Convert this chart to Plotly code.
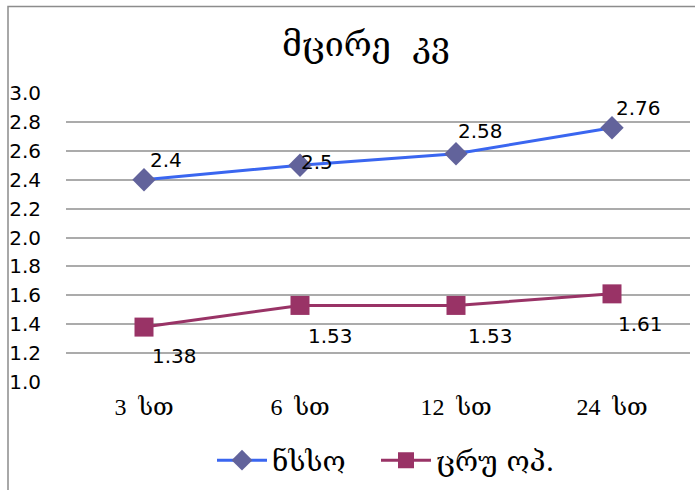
import plotly.graph_objects as go

categories = ["3  სთ", "6  სთ", "12  სთ", "24  სთ"]
series1_name = "ნსსო"
series1 = [2.4, 2.5, 2.58, 2.76]
series2_name = "ცრუ ოპ."
series2 = [1.38, 1.53, 1.53, 1.61]
title_text = "მცირე  კვ"
y_ticks = [1.0, 1.2, 1.4, 1.6, 1.8, 2.0, 2.2, 2.4, 2.6, 2.8, 3.0]

# label offsets in pixels (style only)
s1_off = [(22, 20), (17, 3), (24, 23), (26, 20)]
s2_off = [(30, -29), (30, -31), (34, -31), (28, -30)]

W, H = 695, 490
ML, MR, MT, MB = 66, 5, 93, 106
PW, PH = W - ML - MR, H - MT - MB

fig = go.Figure()
fig.add_trace(go.Scatter(
    x=categories, y=series1, name=series1_name, mode="lines+markers",
    line=dict(color="#3A66F0", width=3),
    marker=dict(symbol="diamond", size=18, color="#62639B"),
    legend="legend",
))
fig.add_trace(go.Scatter(
    x=categories, y=series2, name=series2_name, mode="lines+markers",
    line=dict(color="#993366", width=3),
    marker=dict(symbol="square", size=19, color="#993366"),
    legend="legend2",
))

ann = []
for vals, offs in ((series1, s1_off), (series2, s2_off)):
    for c, v, (dx, dy) in zip(categories, vals, offs):
        ann.append(dict(x=c, y=v, xref="x", yref="y", text=f"{v:g}", showarrow=False,
                        xanchor="center", yanchor="middle", xshift=dx, yshift=dy,
                        font=dict(family="DejaVu Sans", size=20, color="#000000")))

def px_x(p):
    return (p - ML) / PW

def px_y(p):
    return (H - MB - p) / PH

shapes = [dict(type="rect", xref="paper", yref="paper",
               x0=px_x(8), x1=px_x(760), y0=px_y(560), y1=px_y(6),
               line=dict(color="#8c8c8c", width=1.5), layer="below")]

legend_common = dict(orientation="h", xanchor="left", yanchor="middle",
                     font=dict(family="DejaVu Serif", size=28, color="#000000"),
                     bgcolor="rgba(0,0,0,0)", itemwidth=50)

fig.update_layout(
    width=W, height=H,
    margin=dict(l=ML, r=MR, t=MT, b=MB),
    paper_bgcolor="white", plot_bgcolor="white",
    title=dict(text=title_text, x=366 / W, xanchor="center", y=1 - 44 / H, yanchor="middle",
               font=dict(family="DejaVu Serif", size=34, color="#000000")),
    xaxis=dict(type="category", range=[-0.5, 3.5], showgrid=False, zeroline=False,
               showline=False, ticks="", ticklabelstandoff=8,
               tickfont=dict(family="Liberation Serif, DejaVu Serif", size=24, color="#000000")),
    yaxis=dict(range=[1.0, 3.0], tickvals=y_ticks, tickformat=".1f",
               showgrid=True, gridcolor="#ababab", gridwidth=1.5, zeroline=False,
               showline=False, ticks="", ticklabelstandoff=24,
               tickfont=dict(family="DejaVu Sans", size=20, color="#000000")),
    legend=dict(x=px_x(212), y=px_y(463), **legend_common),
    legend2=dict(x=px_x(376), y=px_y(463), **legend_common),
    annotations=ann, shapes=shapes, showlegend=True,
)

fig.write_html("out.html")
